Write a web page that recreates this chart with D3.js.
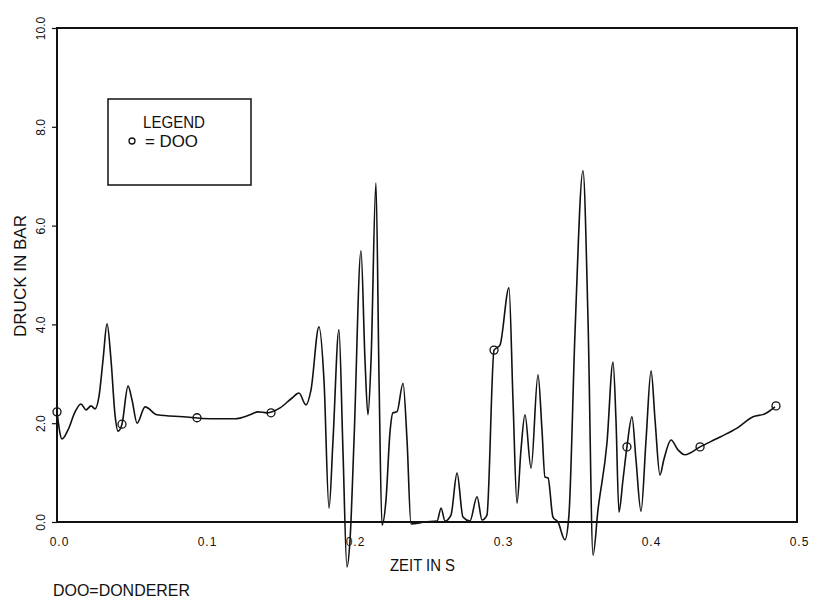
<html>
<head>
<meta charset="utf-8">
<title>Druck ueber Zeit</title>
<script src="https://d3js.org/d3.v7.min.js"></script>
<style>
body { margin: 0; background: #fff; }
svg { display: block; }
text { font-family: "Liberation Sans", Arial, sans-serif; fill: #111; }
.frame { fill: none; stroke: #111; stroke-width: 2; }
.trace { fill: none; stroke: #111; stroke-width: 1.6; stroke-linejoin: round; }
.mark { fill: none; stroke: #111; stroke-width: 1.3; }
</style>
</head>
<body>
<svg width="816" height="604"></svg>
<script>

// pressure trace (time in s, pressure in bar)
var zeit = [0.000, 0.0034, 0.0074, 0.0122, 0.0162, 0.0196, 0.0230, 0.0257, 0.0284, 0.0311,
  0.0338, 0.0365, 0.0392, 0.0412, 0.0439, 0.0480, 0.0507, 0.0541, 0.0595, 0.0676,
  0.0851, 0.1034, 0.1203, 0.1304, 0.1358, 0.1419, 0.1507, 0.1588, 0.1635, 0.1682,
  0.1716, 0.1770, 0.1804, 0.1838, 0.1865, 0.1905, 0.1932, 0.1959, 0.1980, 0.2007,
  0.2054, 0.2081, 0.2101, 0.2122, 0.2155, 0.2176, 0.2196, 0.2223, 0.2250, 0.2270,
  0.2297, 0.2338, 0.2365, 0.2392, 0.2486, 0.2568, 0.2595, 0.2622, 0.2662, 0.2703,
  0.2743, 0.2790, 0.2838, 0.2872, 0.2905, 0.2953, 0.2993, 0.3054, 0.3081, 0.3108,
  0.3135, 0.3162, 0.3203, 0.3250, 0.3277, 0.3297, 0.3318, 0.3351, 0.3385, 0.3432,
  0.3459, 0.3500, 0.3554, 0.3588, 0.3622, 0.3655, 0.3716, 0.3757, 0.3777, 0.3797,
  0.3824, 0.3851, 0.3885, 0.3912, 0.3946, 0.3980, 0.4014, 0.4041, 0.4074, 0.4100,
  0.4149, 0.4196, 0.4243, 0.4345, 0.4480, 0.4595, 0.4703, 0.4784, 0.4851];
var druck = [2.23, 1.68, 1.86, 2.23, 2.39, 2.27, 2.35, 2.29, 2.55, 3.28,
  4.01, 3.28, 2.17, 1.84, 1.98, 2.75, 2.47, 2.00, 2.33, 2.17,
  2.13, 2.09, 2.09, 2.17, 2.23, 2.21, 2.31, 2.51, 2.61, 2.37,
  2.67, 3.95, 2.87, 0.28, 1.66, 3.89, 1.46, -0.91, -0.36, 1.66,
  5.49, 3.28, 2.17, 3.28, 6.86, 2.87, -0.06, 0.45, 1.82, 2.21,
  2.23, 2.81, 1.66, -0.04, 0.00, 0.02, 0.28, 0.02, 0.14, 0.99,
  0.10, 0.02, 0.51, 0.04, 0.14, 3.48, 3.58, 4.74, 2.47, 0.38,
  1.46, 2.17, 1.09, 2.98, 1.86, 0.91, 0.89, 0.10, 0.00, -0.36,
  0.14, 3.83, 7.11, 4.09, -0.67, 0.24, 1.60, 3.24, 2.06, 0.20,
  0.85, 1.52, 2.13, 1.26, 0.22, 1.66, 3.06, 2.06, 0.95, 1.26,
  1.66, 1.46, 1.36, 1.52, 1.72, 1.90, 2.13, 2.19, 2.33];

// DOO symbols along the trace
var markZeit = [0.000, 0.0439, 0.0946, 0.1446, 0.2953, 0.3851, 0.4345, 0.4858];
var markDruck = [2.23, 1.98, 2.11, 2.21, 3.48, 1.52, 1.52, 2.35];

var xTicks = [0.0, 0.1, 0.2, 0.3, 0.4, 0.5];
var yTicks = [0, 2, 4, 6, 8, 10];

var svg = d3.select("svg");

var x = d3.scaleLinear().domain([0, 0.5]).range([57, 797]);
var y = d3.scaleLinear().domain([0, 10]).range([522, 28]);

var fmt = d3.format(".1f");

// y axis, labels turned to read upwards
var yAxis = svg.append("g")
  .attr("transform", "translate(57,0)")
  .call(d3.axisLeft(y).tickValues(yTicks).tickSize(5).tickFormat(fmt));
yAxis.select(".domain").remove();
yAxis.selectAll("line").attr("stroke", "#111").attr("stroke-width", 1.2);
yAxis.selectAll("text")
  .attr("x", null).attr("dy", null)
  .attr("text-anchor", "middle")
  .attr("font-size", 12)
  .attr("transform", "translate(-12,0) rotate(-90)")
  .attr("y", 0);

// x axis
var xAxis = svg.append("g")
  .attr("transform", "translate(0,522)")
  .call(d3.axisBottom(x).tickValues(xTicks).tickSizeInner(0).tickSizeOuter(0).tickPadding(15).tickFormat(fmt));
xAxis.select(".domain").remove();
xAxis.selectAll("text").attr("font-size", 12).attr("dx", 2).attr("letter-spacing", 1);

// plot frame
svg.append("rect").attr("class", "frame")
  .attr("x", x(0)).attr("y", y(10))
  .attr("width", x(0.5) - x(0)).attr("height", y(0) - y(10));

var pts = zeit.map(function (t, i) { return [t, druck[i]]; });
var line = d3.line()
  .x(function (d) { return x(d[0]); })
  .y(function (d) { return y(d[1]); })
  .curve(d3.curveMonotoneX);

svg.append("path").attr("class", "trace").attr("d", line(pts));

svg.selectAll("circle.mark").data(markZeit).enter().append("circle")
  .attr("class", "mark")
  .attr("cx", function (d) { return x(d); })
  .attr("cy", function (d, i) { return y(markDruck[i]); })
  .attr("r", 4);

// legend
var leg = svg.append("g");
leg.append("rect").attr("x", 108).attr("y", 99).attr("width", 143).attr("height", 86)
  .attr("fill", "none").attr("stroke", "#111").attr("stroke-width", 1.5);
leg.append("text").attr("x", 143).attr("y", 128).attr("font-size", 16)
  .attr("textLength", 62).attr("lengthAdjust", "spacingAndGlyphs").text("LEGEND");
leg.append("circle").attr("class", "mark").attr("cx", 132).attr("cy", 141).attr("r", 3);
leg.append("text").attr("x", 145).attr("y", 147).attr("font-size", 16)
  .attr("textLength", 53).attr("lengthAdjust", "spacingAndGlyphs").text("= DOO");

// titles
svg.append("text").attr("x", 390).attr("y", 571).attr("font-size", 16)
  .attr("textLength", 65).attr("lengthAdjust", "spacingAndGlyphs").text("ZEIT IN S");

svg.append("text").attr("transform", "translate(26,276) rotate(-90)")
  .attr("text-anchor", "middle").attr("font-size", 16)
  .attr("textLength", 122).attr("lengthAdjust", "spacingAndGlyphs").text("DRUCK IN BAR");

svg.append("text").attr("x", 53).attr("y", 596).attr("font-size", 16)
  .attr("textLength", 137).attr("lengthAdjust", "spacingAndGlyphs").text("DOO=DONDERER");

</script>
</body>
</html>
